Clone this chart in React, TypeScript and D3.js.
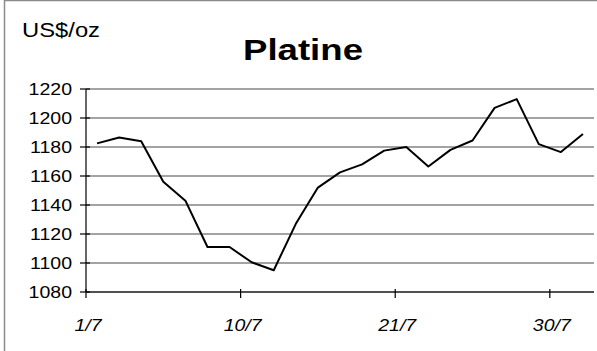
import React from "react";
import * as d3 from "d3";

// Trading days of July and the platinum fixing for each (US$/oz)
const dates = ["1/7","2/7","3/7","6/7","7/7","8/7","9/7","10/7","13/7","14/7","15/7","16/7","17/7","20/7","21/7","22/7","23/7","24/7","27/7","28/7","29/7","30/7","31/7"];
const prices = [1182.5, 1186.5, 1184, 1156, 1143, 1111, 1111, 1100.5, 1095, 1127, 1152, 1162.5, 1168, 1177.5, 1180, 1166.5, 1178, 1184.5, 1207, 1213, 1182, 1176.5, 1189];
const yTicks = [1080, 1100, 1120, 1140, 1160, 1180, 1200, 1220];
const labelEvery = 7;

const W = 597;
const H = 351;
const left = 86;
const right = 594;
const top = 89;
const bottom = 292;
const SX = 1.22; // horizontal text stretch

function Txt({ x, y, anchor = "start", size, weight = "normal", italic = false, children }: any) {
  return (
    <text
      transform={`translate(${x},${y}) scale(${SX},1)`}
      textAnchor={anchor}
      fontFamily="'Liberation Sans', Arial, sans-serif"
      fontSize={size}
      fontWeight={weight}
      fontStyle={italic ? "italic" : "normal"}
      fill="#000"
    >
      {children}
    </text>
  );
}

export default function App() {
  const x = d3.scaleBand<number>().domain(d3.range(dates.length)).range([left, right]).padding(0);
  const y = d3.scaleLinear().domain([1080, 1220]).range([bottom, top]);
  const line = d3
    .line<number>()
    .x((_, i) => (x(i) as number) + x.bandwidth() / 2)
    .y((d) => y(d));
  const tickIdx = d3.range(0, dates.length, labelEvery);

  return (
    <svg width={W} height={H} style={{ position: "fixed", left: 0, top: 0, background: "#fff" }}>
      <rect x={4.5} y={0.5} width={W + 10} height={H + 10} fill="#fff" stroke="#8a8a8a" strokeWidth={1.5} />
      {yTicks.map((t) => (
        <line key={"g" + t} x1={left} x2={right} y1={y(t)} y2={y(t)} stroke="#858585" strokeWidth={1.7} />
      ))}
      <line x1={left} x2={left} y1={top} y2={bottom} stroke="#000" strokeWidth={1.2} />
      <line x1={left} x2={right} y1={bottom} y2={bottom} stroke="#000" strokeWidth={1.2} />
      {yTicks.map((t) => (
        <line key={"t" + t} x1={left - 6} x2={left + 4} y1={y(t)} y2={y(t)} stroke="#000" strokeWidth={1.2} />
      ))}
      {yTicks.map((t) => (
        <Txt key={"l" + t} x={72} y={y(t) + 6} anchor="end" size={16}>
          {t}
        </Txt>
      ))}
      {tickIdx.map((i) => (
        <g key={"x" + i}>
          <line x1={x(i)} x2={x(i)} y1={bottom - 3} y2={bottom + 6} stroke="#000" strokeWidth={1.2} />
          <Txt x={(x(i) as number) + 2} y={331} anchor="middle" size={16} italic>
            {dates[i]}
          </Txt>
        </g>
      ))}
      <path d={line(prices) || ""} fill="none" stroke="#000" strokeWidth={2} strokeLinejoin="round" />
      <Txt x={22} y={37} size={19.5}>US$/oz</Txt>
      <Txt x={303} y={60} anchor="middle" size={30} weight="bold">Platine</Txt>
    </svg>
  );
}
